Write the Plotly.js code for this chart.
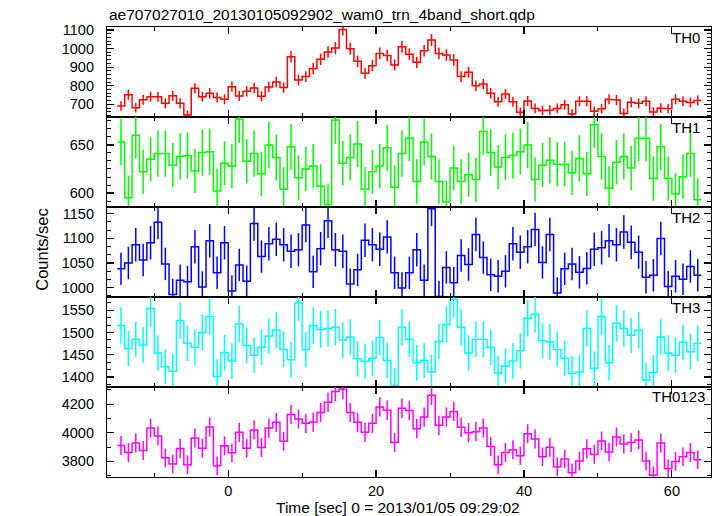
<!DOCTYPE html>
<html>
<head>
<meta charset="utf-8">
<script src="https://cdn.plot.ly/plotly-3.0.1.min.js"></script>
<style>
html,body{margin:0;padding:0;background:#fff;}
#chart{width:717px;height:516px;}
</style>
</head>
<body>
<div id="chart"></div>
<script>
// Time bin centres [sec] (1 s bins)
const timeSec = [-14.5,-13.5,-12.5,-11.5,-10.5,-9.5,-8.5,-7.5,-6.5,-5.5,-4.5,-3.5,-2.5,-1.5,-0.5,0.5,1.5,2.5,3.5,4.5,5.5,6.5,7.5,8.5,9.5,10.5,11.5,12.5,13.5,14.5,15.5,16.5,17.5,18.5,19.5,20.5,21.5,22.5,23.5,24.5,25.5,26.5,27.5,28.5,29.5,30.5,31.5,32.5,33.5,34.5,35.5,36.5,37.5,38.5,39.5,40.5,41.5,42.5,43.5,44.5,45.5,46.5,47.5,48.5,49.5,50.5,51.5,52.5,53.5,54.5,55.5,56.5,57.5,58.5,59.5,60.5,61.5,62.5,63.5];
const binWidth = 1;

const th0 = [691,752,682,725,741,741,705,746,705,642,786,741,759,737,727,795,745,770,788,743,793,820,790,956,831,849,892,942,981,1003,1103,999,931,867,908,974,962,911,1010,970,926,988,1046,974,965,938,849,872,800,809,759,714,755,714,657,718,678,666,669,678,698,648,716,716,662,676,727,723,651,711,705,716,659,680,676,727,716,709,720];
const th0Err = [26,27,26,27,27,27,27,27,27,25,28,27,28,27,27,28,27,28,28,27,28,29,28,31,29,29,30,31,31,32,33,32,31,29,30,31,31,30,32,31,30,31,32,31,31,31,29,30,28,28,28,27,27,27,26,27,26,26,26,26,26,25,27,27,26,26,27,27,26,27,27,27,26,26,26,27,27,27,27];

const th1 = [653,595,660,622,635,641,641,629,638,639,623,642,643,602,631,628,677,633,641,620,650,637,604,648,616,625,628,607,588,676,631,637,651,604,622,628,647,606,641,657,612,653,638,612,591,626,612,619,614,664,642,627,637,639,643,650,614,629,634,630,630,621,636,620,671,638,605,632,638,626,657,657,615,648,615,599,617,641,593];
const th1Err = [24,23,24,23,23,24,24,23,24,24,23,24,24,23,23,23,25,23,24,23,24,24,23,24,23,23,23,23,22,25,23,24,24,23,23,23,24,23,24,24,23,24,24,23,22,23,23,23,23,24,24,23,24,24,24,24,23,23,24,23,23,23,24,23,24,24,23,23,24,23,24,24,23,24,23,22,23,24,22];

const th2 = [1038,1050,1087,1056,1091,1133,1048,986,1015,1012,1083,1001,1095,1030,1091,993,1046,1013,1130,1063,1089,1098,1087,1074,1077,1127,1032,1079,1136,1077,1074,1007,1036,1096,1087,1078,1103,1030,999,1030,1077,1015,1160,982,1041,1010,1065,1047,1108,1061,1026,1023,1033,1089,1072,1083,1118,1051,1108,989,1038,1048,1031,1039,1078,1081,1095,1087,1113,1092,1072,1021,1025,1100,1002,1023,1017,1043,1025];
const th2Err = [33,33,34,33,34,35,33,32,32,32,34,32,34,33,34,32,33,32,35,33,34,34,34,34,34,35,33,34,35,34,34,32,33,34,34,34,34,33,32,33,34,32,35,32,33,32,33,33,34,33,33,33,33,34,34,34,34,33,34,32,33,33,33,33,34,34,34,34,34,34,34,33,33,34,32,33,32,33,33];

const th3 = [1516,1464,1485,1472,1554,1454,1423,1413,1527,1476,1467,1500,1536,1401,1455,1436,1520,1471,1449,1467,1492,1506,1462,1439,1567,1462,1516,1507,1509,1512,1483,1490,1441,1435,1442,1489,1437,1381,1512,1485,1432,1437,1411,1480,1518,1575,1512,1454,1485,1485,1467,1409,1425,1436,1459,1532,1541,1482,1479,1462,1442,1408,1411,1509,1419,1536,1432,1521,1509,1494,1505,1393,1410,1490,1454,1449,1478,1457,1476];
const th3Err = [41,40,40,40,41,40,39,39,41,40,40,41,41,39,40,40,41,40,40,40,40,41,40,40,41,40,41,41,41,41,40,40,40,40,40,40,40,39,41,40,40,40,39,40,41,41,41,40,40,40,40,39,39,40,40,41,41,40,40,40,40,39,39,41,39,41,40,41,41,40,41,39,39,40,40,40,40,40,40];

const th0123 = [3911,3862,3929,3876,4033,3978,3825,3782,3890,3777,3964,3892,4040,3770,3909,3860,4003,3892,4020,3897,4033,4073,3941,4128,4096,4066,4075,4142,4214,4288,4306,4142,4073,4003,4066,4181,4158,3932,4172,4156,4029,4110,4262,4052,4110,4149,4038,4001,4008,4033,3904,3777,3862,3881,3839,3994,3957,3832,3899,3763,3816,3721,3802,3888,3849,3943,3865,3971,3922,3932,3950,3802,3703,3929,3749,3800,3832,3862,3812];
const th0123Err = [66,66,66,66,67,66,65,65,66,65,66,66,67,65,66,66,67,66,67,66,67,67,66,67,67,67,67,67,68,69,69,67,67,67,67,68,68,66,68,68,67,67,68,67,67,67,67,67,67,67,66,65,66,66,65,66,66,65,66,65,65,65,65,66,65,66,66,66,66,66,66,65,64,66,65,65,65,66,65];

const panelNames = ['TH0','TH1','TH2','TH3','TH0123'];
const yTickLabels = [[700,800,900,1000,1100],[600,650],[1000,1050,1100,1150],[1400,1450,1500,1550],[3800,4000,4200]];
const xTickLabels = [0,20,40,60];

const titleText = 'ae707027010_20130105092902_wam0_trn_4band_short.qdp';
const xTitle = 'Time [sec] 0 = 2013/01/05 09:29:02';
const yTitle = 'Counts/sec';

// ---- presentation ----
const series = [
  {v: th0, e: th0Err, color: 'rgb(255,0,0)', range: [631.6, 1116], minor: 20},
  {v: th1, e: th1Err, color: 'rgb(0,255,0)', range: [585.5, 679], minor: 50/6},
  {v: th2, e: th2Err, color: 'rgb(0,0,255)', range: [980.8, 1163.8], minor: 50/3},
  {v: th3, e: th3Err, color: 'rgb(0,255,255)', range: [1377.5, 1580], minor: 50/3},
  {v: th0123, e: th0123Err, color: 'rgb(255,0,255)', range: [3691, 4320], minor: 100}
];
const FONT = 'Liberation Sans, Arial, Helvetica, sans-serif';
const xRange = [-16.39, 65.29];
const labelY = [0.9773, 0.7773, 0.5773, 0.3773, 0.1793];
const labelX = [0.9851, 0.9851, 0.9851, 0.9851, 0.9934];

const traces = [];
const layout = {
  width: 717, height: 516,
  margin: {l: 107, r: 6, t: 27, b: 39},
  paper_bgcolor: '#fff', plot_bgcolor: '#fff',
  showlegend: false,
  font: {family: FONT, color: '#000', size: 15},
  annotations: []
};

series.forEach((s, i) => {
  const n = i === 0 ? '' : String(i + 1);
  const xs = [], ys = [];
  for (let k = 0; k < timeSec.length; k++) {
    xs.push(timeSec[k] - binWidth / 2, timeSec[k] + binWidth / 2);
    ys.push(s.v[k], s.v[k]);
  }
  traces.push({
    type: 'scatter', mode: 'lines', x: xs, y: ys,
    xaxis: 'x' + n, yaxis: 'y' + n,
    line: {color: s.color, width: 1.5, shape: 'linear'},
    hoverinfo: 'skip'
  });
  traces.push({
    type: 'scatter', mode: 'markers', x: timeSec, y: s.v,
    xaxis: 'x' + n, yaxis: 'y' + n,
    marker: {size: 1, color: 'rgba(0,0,0,0)'},
    error_y: {type: 'data', array: s.e, visible: true, thickness: 1.5, width: 0, color: s.color},
    hoverinfo: 'skip'
  });
  const top = 1 - 0.2 * i, bot = 1 - 0.2 * (i + 1);
  layout['xaxis' + n] = {
    domain: [0, 1], anchor: 'y' + n, range: xRange,
    tickmode: 'array', tickvals: xTickLabels, ticktext: xTickLabels.map(String),
    ticks: 'inside', ticklen: 7, tickwidth: 1.2, tickcolor: '#000',
    minor: {tickmode: 'array', tickvals: [-10, 10, 30, 50], ticks: 'inside', ticklen: 4, tickwidth: 1, tickcolor: '#000', showgrid: false},
    showline: true, linecolor: '#000', linewidth: 1.1, mirror: 'ticks',
    showgrid: false, zeroline: false,
    showticklabels: i === 4,
    tickfont: {family: FONT, size: 14.5, color: '#000'},
    ticklabelstandoff: 0
  };
  layout['yaxis' + n] = {
    domain: [bot, top], anchor: 'x' + n, range: s.range,
    tickmode: 'array', tickvals: yTickLabels[i], ticktext: yTickLabels[i].map(String),
    ticks: 'inside', ticklen: 7, tickwidth: 1.2, tickcolor: '#000',
    minor: {tick0: 0, dtick: s.minor, ticks: 'inside', ticklen: 4, tickwidth: 1, tickcolor: '#000', showgrid: false},
    showline: true, linecolor: '#000', linewidth: 1.1, mirror: 'ticks',
    showgrid: false, zeroline: false,
    tickfont: {family: FONT, size: 14.5, color: '#000'},
    ticklabelstandoff: 9
  };
  layout.annotations.push({
    text: panelNames[i], xref: 'paper', yref: 'paper',
    x: labelX[i], y: labelY[i], xanchor: 'right', yanchor: 'middle',
    showarrow: false, font: {family: FONT, size: 15, color: '#000'}
  });
});

layout.annotations.push({
  text: titleText, xref: 'paper', yref: 'paper', x: 0, y: 1.0278,
  xanchor: 'left', yanchor: 'middle', showarrow: false,
  font: {family: FONT, size: 15.5, color: '#000'}
});
layout.annotations.push({
  text: xTitle, xref: 'paper', yref: 'paper', x: 0.4818, y: -0.068,
  xanchor: 'center', yanchor: 'middle', showarrow: false,
  font: {family: FONT, size: 15.5, color: '#000'}
});
layout.annotations.push({
  text: yTitle, xref: 'paper', yref: 'paper', x: -0.1076, y: 0.505,
  xanchor: 'center', yanchor: 'middle', textangle: -90, showarrow: false,
  font: {family: FONT, size: 16.5, color: '#000'}
});

Plotly.newPlot('chart', traces, layout, {staticPlot: true, displayModeBar: false});
</script>
</body>
</html>
